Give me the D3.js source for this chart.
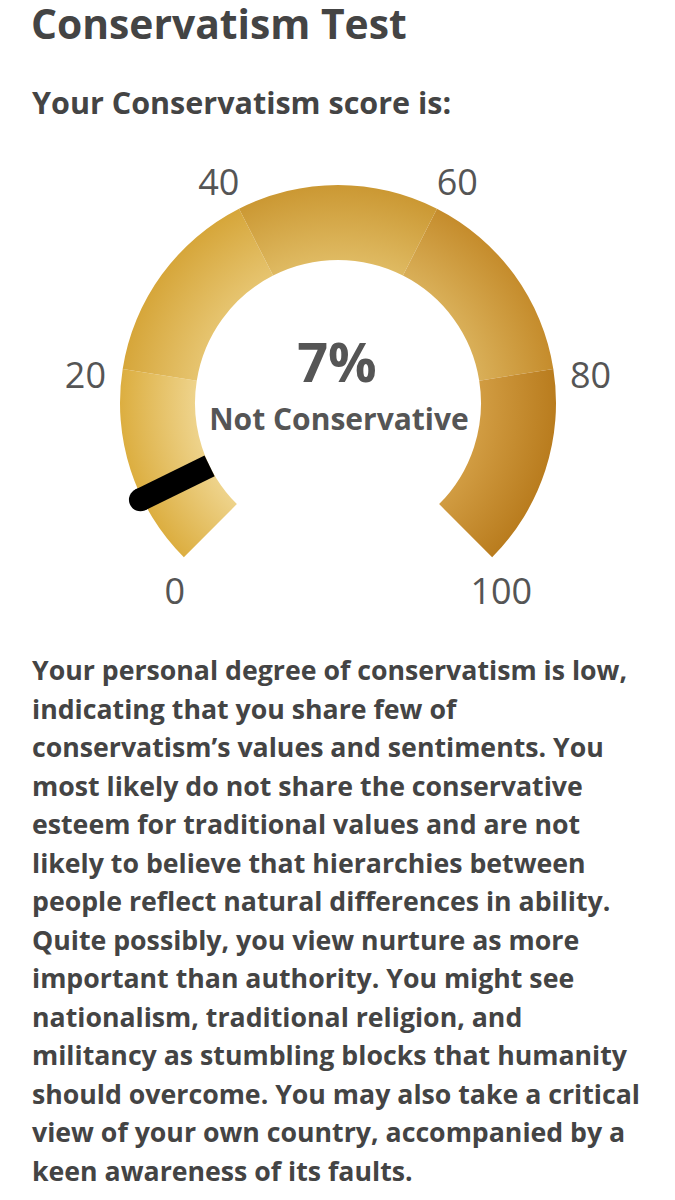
<!DOCTYPE html>
<html>
<head>
<meta charset="utf-8">
<script src="https://cdn.jsdelivr.net/npm/d3@7"></script>
<style>
  html, body { margin: 0; padding: 0; background: #fff; }
  svg { display: block; font-family: "Open Sans", sans-serif; }
</style>
</head>
<body>
<div id="chart"></div>
<script>
// gauge data
var bandEdges = [0, 20, 40, 60, 80, 100];
var tickLabels = ["0", "20", "40", "60", "80", "100"];
var score = 7;
var verdict = "Not Conservative";

var title = "Conservatism Test";
var subtitle = "Your Conservatism score is:";
var summaryLines = [
	"Your personal degree of conservatism is low,",
	"indicating that you share few of",
	"conservatism\u2019s values and sentiments. You",
	"most likely do not share the conservative",
	"esteem for traditional values and are not",
	"likely to believe that hierarchies between",
	"people reflect natural differences in ability.",
	"Quite possibly, you view nurture as more",
	"important than authority. You might see",
	"nationalism, traditional religion, and",
	"militancy as stumbling blocks that humanity",
	"should overcome. You may also take a critical",
	"view of your own country, accompanied by a",
	"keen awareness of its faults."
];

// band shading, light (inner) to dark (outer)
var innerColors = ["#eed38b", "#e6c46f", "#dfba62", "#d9af58", "#d19c42"];
var outerColors = ["#dcae40", "#d6a63a", "#cb9833", "#c58c2c", "#b97c1e"];

var width = 675, height = 1200;
var cx = 338, cy = 403;
var rInner = 143, rOuter = 218;

var svg = d3.select("#chart").append("svg")
	.attr("width", width)
	.attr("height", height);

svg.append("text")
	.attr("x", 31).attr("y", 39)
	.attr("font-size", 40.8).attr("font-weight", 700)
	.attr("fill", "#444")
	.text(title);

svg.append("text")
	.attr("x", 32).attr("y", 114)
	.attr("font-size", 30.5).attr("font-weight", 700)
	.attr("fill", "#444")
	.text(subtitle);

var angle = d3.scaleLinear().domain([0, 100]).range([-0.75 * Math.PI, 0.75 * Math.PI]);
// labels sit a little past the band ends
var labelAngle = d3.scaleLinear().domain([0, 100]).range([-140 * Math.PI / 180, 140 * Math.PI / 180]);
var labelRx = 254, labelRy = 248;

var g = svg.append("g").attr("transform", "translate(" + cx + "," + cy + ")");

var defs = svg.append("defs");
var bands = d3.pairs(bandEdges);

bands.forEach(function(b, i) {
	var grad = defs.append("radialGradient")
		.attr("id", "band" + i)
		.attr("gradientUnits", "userSpaceOnUse")
		.attr("cx", 0).attr("cy", 0).attr("r", rOuter);
	grad.append("stop").attr("offset", rInner / rOuter).attr("stop-color", innerColors[i]);
	grad.append("stop").attr("offset", 1).attr("stop-color", outerColors[i]);
});

var arc = d3.arc().innerRadius(rInner).outerRadius(rOuter);

g.selectAll(".band")
	.data(bands)
	.enter().append("path")
	.attr("class", "band")
	.attr("d", function(d) { return arc({startAngle: angle(d[0]), endAngle: angle(d[1])}); })
	.attr("fill", function(d, i) { return "url(#band" + i + ")"; });

g.selectAll(".tick")
	.data(bandEdges)
	.enter().append("text")
	.attr("class", "tick")
	.attr("x", function(d) { return labelRx * Math.sin(labelAngle(d)); })
	.attr("y", function(d) { return -labelRy * Math.cos(labelAngle(d)) + 11; })
	.attr("text-anchor", "middle")
	.attr("font-size", 36)
	.attr("fill", "#555")
	.text(function(d, i) { return tickLabels[i]; });

// needle
var a = angle(score);
var ux = Math.sin(a), uy = -Math.cos(a);
g.append("line")
	.attr("x1", rInner * ux).attr("y1", rInner * uy)
	.attr("x2", 220 * ux).attr("y2", 220 * uy)
	.attr("stroke", "#000")
	.attr("stroke-width", 23);
g.append("circle")
	.attr("cx", 220 * ux).attr("cy", 220 * uy)
	.attr("r", 11.5)
	.attr("fill", "#000");

g.append("text")
	.attr("x", -1).attr("y", -21)
	.attr("text-anchor", "middle")
	.attr("font-size", 54).attr("font-weight", 700)
	.attr("fill", "#555")
	.text(score + "%");

g.append("text")
	.attr("x", 1).attr("y", 27)
	.attr("text-anchor", "middle")
	.attr("font-size", 30).attr("font-weight", 700)
	.attr("fill", "#555")
	.text(verdict);

svg.append("g")
	.selectAll("text")
	.data(summaryLines)
	.enter().append("text")
	.attr("x", 32)
	.attr("y", function(d, i) { return 680 + i * 38.5; })
	.attr("font-size", 26.7).attr("font-weight", 700)
	.attr("fill", "#444")
	.text(function(d) { return d; });
</script>
</body>
</html>
